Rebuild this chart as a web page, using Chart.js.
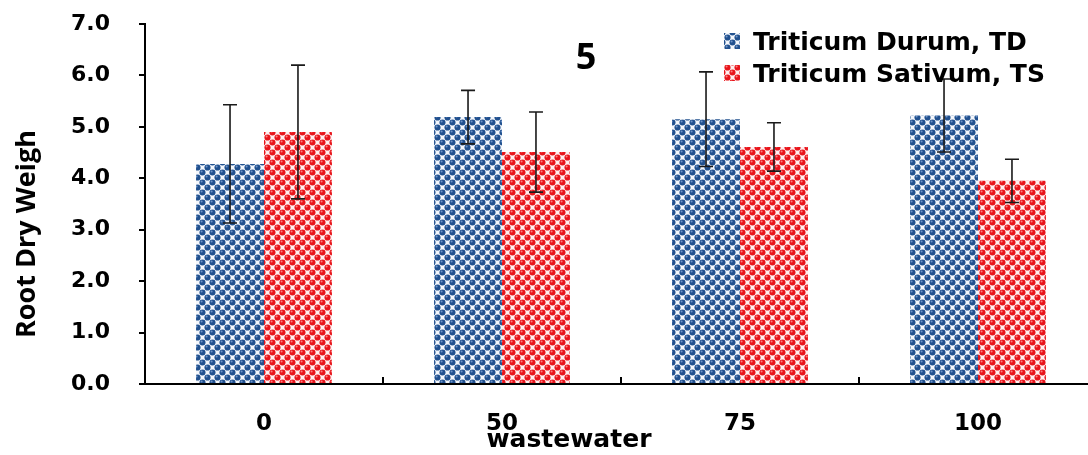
<!DOCTYPE html>
<html><head><meta charset="utf-8">
<script src="https://cdn.jsdelivr.net/npm/chart.js@4.4.1/dist/chart.umd.min.js"></script>
<style>html,body{margin:0;padding:0;overflow:hidden;background:#fff;width:1088px;height:455px}canvas{display:block}</style>
</head><body><canvas id="c" width="1100" height="455"></canvas>
<script>
const categories = ['0', '50', '75', '100'];
const seriesNames = ['Triticum Durum, TD', 'Triticum Sativum, TS'];
const tdValues = [4.28, 5.19, 5.15, 5.22];
const tdErrors = [1.15, 0.52, 0.92, 0.71];
const tsValues = [4.90, 4.51, 4.61, 3.95];
const tsErrors = [1.30, 0.78, 0.47, 0.42];
const yTicks = [0, 1, 2, 3, 4, 5, 6, 7];
const panelLabel = '5';
const xTitle = 'wastewater';
const yTitle = 'Root Dry Weigh';

const canvas = document.getElementById('c');
const ctx = canvas.getContext('2d');

function makePattern(bg, dot, hi) {
  const c = document.createElement('canvas');
  c.width = 10; c.height = 10;
  const g = c.getContext('2d');
  g.fillStyle = bg; g.fillRect(0, 0, 10, 10);
  const centers = [];
  for (const [x, y] of [[2.5, 2.5], [7.5, 7.5]]) {
    for (const dx of [-10, 0, 10]) for (const dy of [-10, 0, 10]) centers.push([x + dx, y + dy]);
  }
  for (const [x, y] of centers) {
    g.fillStyle = dot; g.beginPath(); g.arc(x, y, 3.05, 0, Math.PI * 2); g.fill();
  }
  for (const [x, y] of centers) {
    g.fillStyle = hi; g.beginPath(); g.arc(x - 0.9, y - 0.9, 1.0, 0, Math.PI * 2); g.fill();
  }
  return ctx.createPattern(c, 'repeat');
}
const bluePat = makePattern('#f4f7fc', '#21508e', '#6f95c8');
const redPat = makePattern('#fff0f0', '#e8141b', '#f98080');

const overlay = {
  id: 'overlay',
  afterDatasetsDraw(chart) {
    const c = chart.ctx, y = chart.scales.y;
    chart.data.datasets.forEach((ds, i) => {
      const meta = chart.getDatasetMeta(i);
      meta.data.forEach((bar, j) => {
        const v = ds.data[j], e = ds.errors[j];
        const yt = y.getPixelForValue(v + e), yb = y.getPixelForValue(v - e);
        c.save();
        c.strokeStyle = '#1a1a1a'; c.lineWidth = 1.6;
        c.beginPath();
        c.moveTo(bar.x, yt); c.lineTo(bar.x, yb);
        c.moveTo(bar.x - 7, yt); c.lineTo(bar.x + 7, yt);
        c.moveTo(bar.x - 7, yb); c.lineTo(bar.x + 7, yb);
        c.stroke();
        c.restore();
      });
    });
  },
  afterDraw(chart) {
    const c = chart.ctx, x = chart.scales.x, area = chart.chartArea;
    c.save();
    c.strokeStyle = '#000'; c.lineWidth = 2;
    c.beginPath();
    for (let i = 1; i < categories.length; i++) {
      const px = (x.getPixelForValue(i - 1) + x.getPixelForValue(i)) / 2;
      c.moveTo(px, area.bottom); c.lineTo(px, area.bottom - 7);
    }
    c.stroke();
    const pats = [bluePat, redPat];
    c.font = 'bold 25px "DejaVu Sans"';
    c.textBaseline = 'alphabetic'; c.textAlign = 'left'; c.fillStyle = '#000';
    seriesNames.forEach((n, i) => {
      const base = 50 + i * 32;
      c.fillStyle = pats[i];
      c.fillRect(724, base - 17, 16, 16);
      c.fillStyle = '#000';
      c.fillText(n, 753, base);
    });
    c.font = 'bold 36px "Open Sans"';
    c.textAlign = 'center';
    c.fillText(panelLabel, 586, 69);
    c.font = 'bold 25px "DejaVu Sans"';
    c.fillText(xTitle, 569, 447);
    c.translate(27, 234);
    c.rotate(-Math.PI / 2);
    c.font = 'bold 27px "Open Sans"';
    c.textBaseline = 'middle';
    c.fillText(yTitle, 0, 0);
    c.restore();
  }
};

new Chart(ctx, {
  type: 'bar',
  data: {
    labels: categories,
    datasets: [
      { label: seriesNames[0], data: tdValues, errors: tdErrors, backgroundColor: bluePat, borderWidth: 0 },
      { label: seriesNames[1], data: tsValues, errors: tsErrors, backgroundColor: redPat, borderWidth: 0 }
    ]
  },
  options: {
    responsive: false, animation: false, devicePixelRatio: 1,
    layout: { padding: { top: 24, right: 3, left: 0, bottom: 0 } },
    plugins: { legend: { display: false }, tooltip: { enabled: false } },
    datasets: { bar: { categoryPercentage: 0.571, barPercentage: 1 } },
    scales: {
      x: {
        grid: { display: false, drawTicks: false },
        border: { display: true, color: '#000', width: 2 },
        ticks: { font: { family: 'DejaVu Sans', weight: 'bold', size: 23 }, color: '#000', padding: 26 },
        afterFit(s) { s.height = 71; }
      },
      y: {
        min: 0, max: 7,
        afterBuildTicks(s) { s.ticks = yTicks.map(v => ({ value: v })); },
        ticks: { callback: v => Number(v).toFixed(1), font: { family: 'DejaVu Sans', weight: 'bold', size: 22 }, color: '#000', padding: 29 },
        grid: { drawOnChartArea: false, drawTicks: true, tickLength: 6, color: '#000', lineWidth: 2 },
        border: { display: true, color: '#000', width: 2 },
        afterFit(s) { s.width = 145; s.paddingTop = 0; s.paddingBottom = 0; }
      }
    }
  },
  plugins: [overlay]
});
</script>
</body></html>
